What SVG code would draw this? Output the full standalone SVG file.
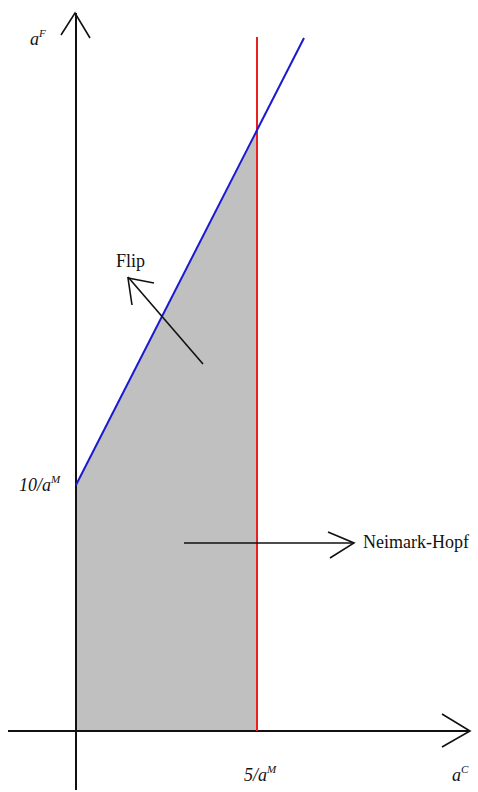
<svg xmlns="http://www.w3.org/2000/svg" width="478" height="792" viewBox="0 0 478 792">
<style>
.ax{stroke:#111;stroke-width:2;fill:none}
.ar{stroke:#111;stroke-width:1.6;fill:none}
.t{font-family:"Liberation Serif",serif;font-size:18px;fill:#111}
.i{font-style:italic}
.s{font-size:11px}
</style>
<rect width="478" height="792" fill="#fff"/>
<g id="region"><polygon points="76,485 257,131 257,731 76,731" fill="#c0c0c0"/></g>
<g id="connectors">
<line class="ax" x1="76" y1="13" x2="76" y2="790"/>
<polyline class="ar" points="61,35 75,13 90,38"/>
<line class="ax" x1="8" y1="731" x2="470" y2="731"/>
<polyline class="ar" points="442,714 470,731 442,747"/>
<line x1="257" y1="37" x2="257" y2="731" stroke="#e82020" stroke-width="2"/>
<line x1="76" y1="485" x2="304" y2="38" stroke="#1a1ad0" stroke-width="2"/>
<line class="ar" x1="203" y1="364" x2="128" y2="277"/>
<polyline class="ar" points="154,283 128,278 132,305"/>
<line class="ar" x1="184" y1="543" x2="354" y2="543"/>
<polyline class="ar" points="328,532 354,543 330,558"/>
</g>
<g id="labels">
<text class="t i" x="30" y="45">a<tspan class="s" dy="-8">F</tspan></text>
<text class="t" x="116" y="267">Flip</text>
<text class="t i" x="19" y="491">10/a<tspan class="s" dy="-8">M</tspan></text>
<text class="t" x="363" y="548">Neimark-Hopf</text>
<text class="t i" x="244" y="781">5/a<tspan class="s" dy="-8">M</tspan></text>
<text class="t i" x="452" y="781">a<tspan class="s" dy="-8">C</tspan></text>
</g>
</svg>
